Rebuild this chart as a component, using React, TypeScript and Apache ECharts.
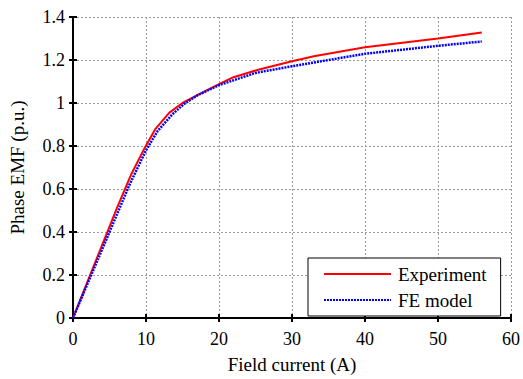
import React, { useEffect, useRef } from "react";
import * as echarts from "echarts";

const expX = [0, 2, 4, 6, 8, 9.8, 11.3, 13.2, 15, 17.5, 20, 22, 25.5, 30, 33, 40, 50, 56];
const expY = [0, 0.17, 0.34, 0.51, 0.67, 0.79, 0.88, 0.955, 1.0, 1.045, 1.088, 1.12, 1.156, 1.194, 1.217, 1.259, 1.3, 1.328];
const feX = [0, 2, 4, 6, 7.7, 10, 11.6, 13.6, 15.2, 17, 20, 25, 30, 35, 40, 50, 56];
const feY = [0, 0.16, 0.32, 0.48, 0.617, 0.78, 0.87, 0.947, 0.995, 1.035, 1.083, 1.14, 1.171, 1.2, 1.229, 1.266, 1.286];
const seriesNames = ["Experiment", "FE model"];
const xLabel = "Field current (A)";
const yLabel = "Phase EMF (p.u.)";

const FONT = "Liberation Serif";

export default function App() {
  const ref = useRef<HTMLDivElement>(null);
  useEffect(() => {
    if (!ref.current) return;
    const chart = echarts.init(ref.current, undefined, { renderer: "svg" });
    const gridLine = { show: true, lineStyle: { color: "#9a9a9a", type: [2, 2] as any, width: 1 } };
    const axisLine = { show: true, lineStyle: { color: "#000", width: 2 } };
    const tick = { show: true, inside: true, length: 4, lineStyle: { color: "#000", width: 2 } };
    chart.setOption({
      animation: false,
      backgroundColor: "#fff",
      textStyle: { fontFamily: FONT },
      grid: { left: 73, top: 17, right: 10, bottom: 52, containLabel: false },
      legend: {
        orient: "vertical",
        left: 308,
        top: 258,
        padding: [6, 14, 6, 15],
        itemWidth: 67,
        itemHeight: 14,
        itemGap: 6,
        backgroundColor: "#fff",
        borderColor: "#000",
        borderWidth: 1,
        borderRadius: 0,
        itemStyle: { opacity: 0 },
        textStyle: { fontFamily: FONT, fontSize: 19, color: "#000", lineHeight: 20, padding: [0, 0, 0, 2] },
        data: seriesNames,
      },
      xAxis: [
        {
          type: "value",
          min: 0,
          max: 60,
          interval: 10,
          name: xLabel,
          nameLocation: "middle",
          nameGap: 37,
          nameTextStyle: { fontFamily: FONT, fontSize: 19, color: "#000" },
          axisLine,
          axisTick: tick,
          axisLabel: { fontFamily: FONT, fontSize: 18, color: "#000", margin: 12 },
          splitLine: gridLine,
        },
        {
          type: "value",
          position: "top",
          min: 0,
          max: 60,
          interval: 10,
          axisLine,
          axisTick: tick,
          axisLabel: { show: false },
          splitLine: { show: false },
        },
      ],
      yAxis: [
        {
          type: "value",
          min: 0,
          max: 1.4,
          interval: 0.2,
          name: yLabel,
          nameLocation: "middle",
          nameGap: 46,
          nameTextStyle: { fontFamily: FONT, fontSize: 19, color: "#000" },
          axisLine,
          axisTick: tick,
          axisLabel: {
            fontFamily: FONT,
            fontSize: 18,
            color: "#000",
            margin: 8,
            formatter: (v: number) => String(Math.round(v * 10) / 10),
          },
          splitLine: gridLine,
        },
        {
          type: "value",
          position: "right",
          min: 0,
          max: 1.4,
          interval: 0.2,
          axisLine,
          axisTick: tick,
          axisLabel: { show: false },
          splitLine: { show: false },
        },
      ],
      series: [
        {
          name: seriesNames[0],
          type: "line",
          symbol: "none",
          showSymbol: false,
          data: expX.map((x, i) => [x, expY[i]]),
          lineStyle: { color: "#ff0000", width: 2 },
          itemStyle: { color: "#ff0000" },
          z: 2,
        },
        {
          name: seriesNames[1],
          type: "line",
          symbol: "none",
          showSymbol: false,
          data: feX.map((x, i) => [x, feY[i]]),
          lineStyle: { color: "#0000ff", width: 2.5, type: [2, 1] as any },
          itemStyle: { color: "#0000ff" },
          z: 3,
        },
      ],
    });
    return () => chart.dispose();
  }, []);
  return <div ref={ref} style={{ width: 523, height: 379, position: "absolute", left: 0, top: 0 }} />;
}
